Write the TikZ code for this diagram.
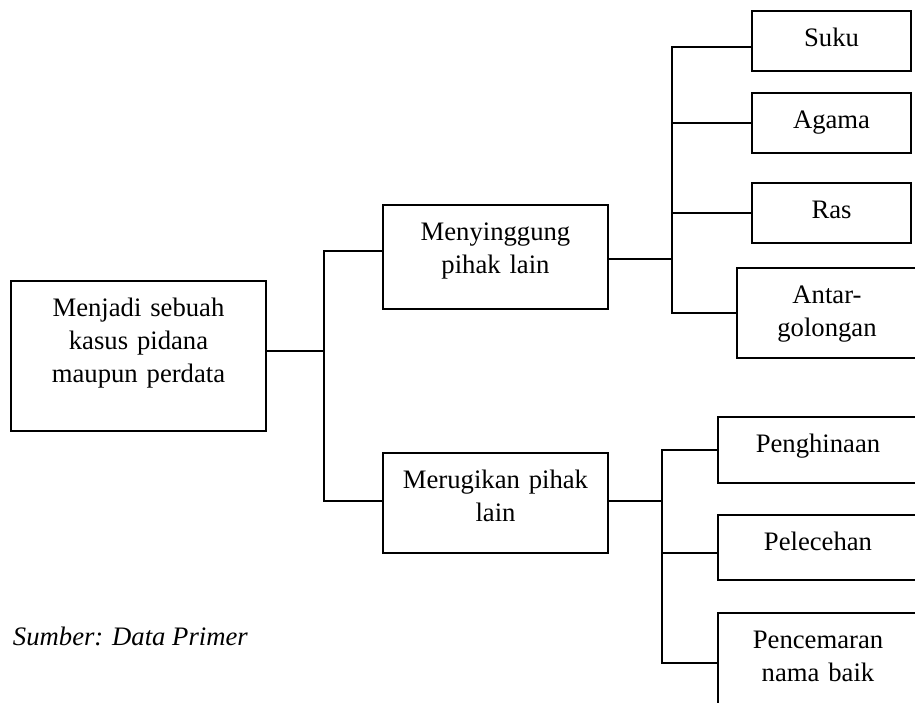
\documentclass[tikz,border=0pt]{standalone}
\usepackage{fontspec}
\setmainfont{Liberation Serif}
\begin{document}
\begin{tikzpicture}[x=0.45pt,y=-0.45pt,line width=0.9pt,line cap=rect,
  font=\fontsize{12}{15}\selectfont,
  kotak/.style 2 args={draw,anchor=north,inner sep=0pt,align=center,
    text width=#1,text height=15.75pt,text depth=#2}]
  \useasboundingbox (0,0) rectangle (915,702);
  \node[kotak={114.75pt}{51.75pt}] (akar) at (138.5,280) {Menjadi sebuah\\kasus pidana\\maupun perdata};
  \node[kotak={101.25pt}{31.05pt}] (singgung) at (495.5,204) {Menyinggung\\pihak lain};
  \node[kotak={101.25pt}{29.25pt}] (rugi) at (495.5,452) {Merugikan pihak\\lain};
  \node[kotak={71.55pt}{11.25pt}] (suku) at (831.5,10) {Suku};
  \node[kotak={71.55pt}{11.25pt}] (agama) at (831.5,92) {Agama};
  \node[kotak={71.55pt}{11.25pt}] (ras) at (831.5,182) {Ras};
  \node[kotak={81pt}{24.75pt}] (antar) at (827,267) {Antar-\\golongan};
  \node[kotak={90pt}{13.95pt}] (hina) at (818,416) {Penghinaan};
  \node[kotak={90pt}{13.5pt}] (leceh) at (818,514) {Pelecehan};
  \node[kotak={90pt}{29.25pt}] (cemar) at (818,612) {Pencemaran\\nama baik};
  \node[anchor=base west,inner sep=0pt,font=\fontsize{12}{15}\selectfont\itshape] (sumber) at (12,645) {Sumber: Data Primer};
  \coordinate (t1) at (324,0);
  \coordinate (t2) at (672,0);
  \coordinate (t3) at (662,0);
  \draw ([yshift=2.25pt]akar.east) -- ([yshift=2.25pt]akar.east -| t1);
  \draw ([yshift=2.7pt]t1 |- singgung.west) -- ([yshift=1pt]t1 |- rugi.west);
  \draw ([yshift=2.7pt]t1 |- singgung.west) -- ([yshift=2.7pt]singgung.west);
  \draw ([yshift=1pt]t1 |- rugi.west) -- ([yshift=1pt]rugi.west);
  \draw ([yshift=-1pt]singgung.east) -- ([yshift=-1pt]singgung.east -| t2);
  \draw ([yshift=-2.7pt]t2 |- suku.west) -- (t2 |- antar.west);
  \draw ([yshift=-2.7pt]t2 |- suku.west) -- ([yshift=-2.7pt]suku.west);
  \foreach \n in {agama,ras,antar}
    \draw (t2 |- \n.west) -- (\n.west);
  \draw ([yshift=1pt]rugi.east) -- ([yshift=1pt]rugi.east -| t3);
  \draw (t3 |- hina.west) -- (t3 |- cemar.west);
  \draw ([yshift=-2.5pt]t3 |- leceh.west) -- ([yshift=-2.5pt]leceh.west);
  \foreach \n in {hina,cemar}
    \draw (t3 |- \n.west) -- (\n.west);
\end{tikzpicture}
\end{document}
